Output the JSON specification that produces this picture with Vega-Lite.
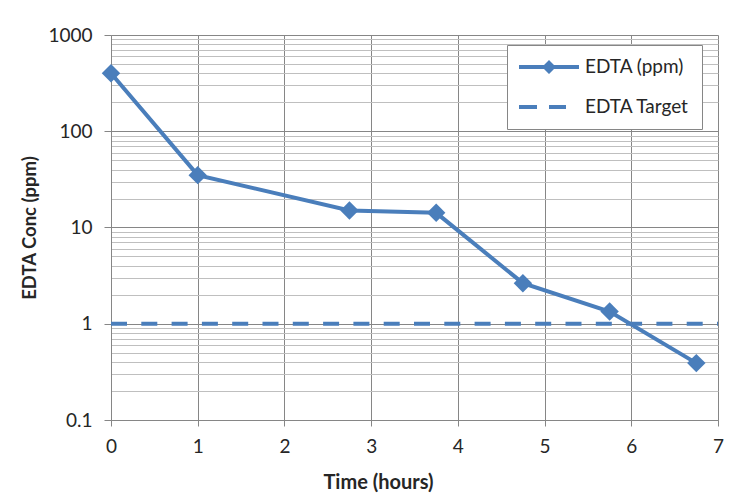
{
  "$schema": "https://vega.github.io/schema/vega-lite/v6.json",
  "autosize": "none",
  "width": 607,
  "height": 385,
  "padding": {"top": 35, "left": 111, "right": 34, "bottom": 83},
  "background": "white",
  "config": {
    "view": {"stroke": null},
    "font": "Lato"
  },
  "datasets": {
    "edta": [
      {"time": 0, "conc": 400, "series": "EDTA (ppm)"},
      {"time": 1, "conc": 35, "series": "EDTA (ppm)"},
      {"time": 2.75, "conc": 15, "series": "EDTA (ppm)"},
      {"time": 3.75, "conc": 14.2, "series": "EDTA (ppm)"},
      {"time": 4.75, "conc": 2.64, "series": "EDTA (ppm)"},
      {"time": 5.75, "conc": 1.34, "series": "EDTA (ppm)"},
      {"time": 6.75, "conc": 0.39, "series": "EDTA (ppm)"}
    ],
    "target": [
      {"time": 0, "conc": 1, "series": "EDTA Target"},
      {"time": 7, "conc": 1, "series": "EDTA Target"}
    ]
  },
  "encoding": {
    "x": {
      "field": "time", "type": "quantitative",
      "scale": {"domain": [0, 7], "nice": false, "zero": false},
      "axis": {
        "values": [0, 1, 2, 3, 4, 5, 6, 7],
        "grid": true, "gridColor": "#868686", "gridWidth": 1,
        "domainColor": "#868686", "tickColor": "#868686", "tickSize": 6,
        "labelFont": "Lato", "labelFontSize": 19, "labelColor": "#262626",
        "labelPadding": 11, "labelFlush": false,
        "title": "Time (hours)", "titleFont": "Lato", "titleFontSize": 20,
        "titleFontWeight": "bold", "titleColor": "#262626",
        "titleX": 267, "titleY": 68, "titleBaseline": "alphabetic", "titleAlign": "center"
      }
    },
    "y": {
      "field": "conc", "type": "quantitative",
      "scale": {"type": "log", "domain": [0.1, 1000], "nice": false},
      "axis": {
        "values": [0.1, 0.2, 0.3, 0.4, 0.5, 0.6, 0.7, 0.8, 0.9, 1, 2, 3, 4, 5, 6, 7, 8, 9, 10, 20, 30, 40, 50, 60, 70, 80, 90, 100, 200, 300, 400, 500, 600, 700, 800, 900, 1000],
        "grid": true,
        "gridColor": {"condition": {"test": "datum.value == 0.1 || datum.value == 1 || datum.value == 10 || datum.value == 100 || datum.value == 1000", "value": "#868686"}, "value": "#bfbfbf"},
        "tickOpacity": {"condition": {"test": "datum.value == 0.1 || datum.value == 1 || datum.value == 10 || datum.value == 100 || datum.value == 1000", "value": 1}, "value": 0},
        "labelExpr": "(datum.value == 0.1 || datum.value == 1 || datum.value == 10 || datum.value == 100 || datum.value == 1000) ? '' + datum.value : ''",
        "domainColor": "#868686", "tickColor": "#868686", "tickSize": 7,
        "labelFont": "Lato", "labelFontSize": 19, "labelColor": "#262626",
        "labelPadding": 12, "labelFlush": false, "labelOverlap": false,
        "title": "EDTA Conc (ppm)", "titleFont": "Lato", "titleFontSize": 18.5,
        "titleFontWeight": "bold", "titleColor": "#262626",
        "titleX": -82, "titleY": 192.5, "titleBaseline": "middle", "titleAngle": -90, "titleAlign": "center"
      }
    }
  },
  "layer": [
    {
      "data": {"name": "target"},
      "mark": {"type": "line", "color": "#4a7ebb", "strokeWidth": 4, "strokeDash": [16, 14.3], "strokeCap": "butt"}
    },
    {
      "data": {"name": "edta"},
      "mark": {"type": "line", "color": "#4a7ebb", "strokeWidth": 4}
    },
    {
      "data": {"name": "edta"},
      "mark": {"type": "point", "shape": "diamond", "filled": true, "color": "#4a7ebb", "size": 340, "opacity": 1}
    },
    {
      "data": {"values": [
        {"time": 0, "conc": 1, "series": "EDTA (ppm)"},
        {"time": 0, "conc": 1, "series": "EDTA Target"}
      ]},
      "mark": {"type": "point", "filled": true, "opacity": 0, "size": 400},
      "encoding": {
        "shape": {
          "field": "series", "type": "nominal",
          "scale": {
            "domain": ["EDTA (ppm)", "EDTA Target"],
            "range": [
              "M-1,-0.2H1.5L2,-0.7L2.5,-0.2H5V0.2H2.5L2,0.7L1.5,0.2H-1Z",
              "M-1,-0.2H0.8V0.2H-1Z M2,-0.2H3.7V0.2H2Z"
            ]
          },
          "legend": {
            "title": null, "orient": "none", "legendX": 396, "legendY": 10,
            "strokeColor": "#868686", "fillColor": "white", "padding": 12,
            "labelFont": "Lato", "labelFontSize": 19, "labelColor": "#262626",
            "labelOffset": 46, "rowPadding": 20, "symbolOpacity": 1,
            "symbolStrokeWidth": 0, "symbolSize": 400
          }
        },
        "color": {
          "field": "series", "type": "nominal",
          "scale": {"domain": ["EDTA (ppm)", "EDTA Target"], "range": ["#4a7ebb", "#4a7ebb"]}
        }
      }
    }
  ]
}
